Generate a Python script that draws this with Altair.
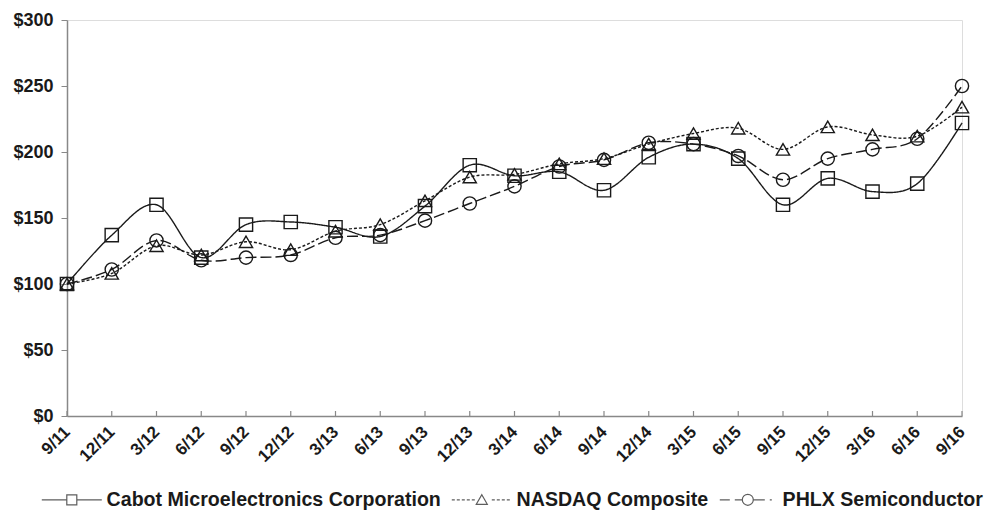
import altair as alt
import pandas as pd

dates = ["9/11", "12/11", "3/12", "6/12", "9/12", "12/12", "3/13", "6/13", "9/13", "12/13",
         "3/14", "6/14", "9/14", "12/14", "3/15", "6/15", "9/15", "12/15", "3/16", "6/16", "9/16"]

cabot = [100, 137, 160, 120, 145, 147, 143, 136, 159, 190,
         182, 185, 171, 196, 206, 195, 160, 180, 170, 176, 222]
nasdaq = [100, 108, 129, 122, 132, 126, 140, 145, 163, 181,
          183, 191, 195, 206, 214, 218, 202, 219, 213, 212, 234]
phlx = [100, 111, 133, 118, 120, 122, 135, 137, 148, 161,
        174, 189, 194, 207, 206, 197, 179, 195, 202, 210, 250]

series = ["Cabot Microelectronics Corporation", "NASDAQ Composite", "PHLX Semiconductor"]

rows = []
for name, vals in zip(series, [cabot, nasdaq, phlx]):
    for d, v in zip(dates, vals):
        rows.append({"date": d, "value": v, "series": name})
df = pd.DataFrame(rows)

# legend symbol paths (unit = 5px at symbolSize 100)
def segs(parts):
    return "".join(f"M{a},0H{b}" for a, b in parts)

sq = "M-1,-1H1V1H-1Z"
tri = "M-1.1,0.9L0,-1L1.1,0.9Z"
circ = "M-1.1,0A1.1,1.1 0 1,0 1.1,0A1.1,1.1 0 1,0 -1.1,0"

p_cabot = segs([(-6, -1), (1, 6)]) + sq
nas_parts = []
x = -6.0
while x < 6:
    a, b = round(x, 2), round(min(x + 0.6, 6), 2)
    if b <= -1.1 or a >= 1.1:
        nas_parts.append((a, b))
    x += 1.0
p_nas = segs(nas_parts) + tri
p_phlx = segs([(-5.6, -3.6), (-2.6, -1.1), (1.1, 3.4), (4.4, 4.8)]) + circ

FONT = "Liberation Sans"
INK = "#1a1a1a"

x_enc = alt.X("date:N", sort=dates, title=None,
              scale=alt.Scale(type="point", padding=0),
              axis=alt.Axis(labelAngle=-45, labelFontSize=17, labelFont=FONT, labelFontWeight="bold",
                            labelColor=INK, ticks=False, domainColor="#888888", domainWidth=1.5,
                            labelPadding=13, grid=False))
y_enc = alt.Y("value:Q", title=None,
              scale=alt.Scale(domain=[0, 300], nice=False),
              axis=alt.Axis(values=[0, 50, 100, 150, 200, 250, 300], labelExpr="'$' + datum.value",
                            labelFontSize=18, labelFont=FONT, labelFontWeight="bold", labelColor=INK,
                            tickSize=6, tickColor="#888888", domainColor="#888888", domainWidth=1.5,
                            labelPadding=8, grid=False))

lines = alt.Chart(df).mark_line(interpolate="cardinal", color=INK, strokeWidth=1.4).encode(
    x=x_enc, y=y_enc,
    detail="series:N",
    strokeDash=alt.StrokeDash("series:N", sort=series, legend=None,
                              scale=alt.Scale(domain=series, range=[[1, 0], [3, 2], [11, 4]])),
)

points = alt.Chart(df).mark_point(filled=False, size=175, color=INK, strokeWidth=1.4, opacity=1).encode(
    x=alt.X("date:N", sort=dates),
    y="value:Q",
    shape=alt.Shape("series:N", sort=series,
                    scale=alt.Scale(domain=series, range=["square", "triangle-up", "circle"]),
                    legend=None),
)

legend_layer = alt.Chart(df).transform_filter("false").mark_point(
    filled=False, color=INK, strokeWidth=1.2).encode(
    shape=alt.Shape("series:N", sort=series,
                    scale=alt.Scale(domain=series, range=[p_cabot, p_nas, p_phlx]),
                    legend=alt.Legend(title=None, orient="none", legendX=-5, legendY=470,
                                      direction="horizontal", columns=3, symbolSize=100,
                                      symbolStrokeColor=INK, symbolFillColor="transparent",
                                      symbolStrokeWidth=1.2, labelFont=FONT, labelFontSize=19.6,
                                      labelFontWeight="bold", labelColor=INK, labelOffset=25,
                                      labelLimit=500, columnPadding=8, gridAlign="none")),
)

ticks_df = pd.DataFrame({"date": dates})
xticks = alt.Chart(ticks_df).mark_rule(color="#888888", strokeWidth=1.2).encode(
    x=alt.X("date:N", sort=dates),
    y=alt.value(396),
    y2=alt.value(391),
)

chart = alt.layer(xticks, lines, points, legend_layer).resolve_scale(
    shape="independent").resolve_legend(shape="independent").properties(
    width=895, height=396,
    autosize=alt.AutoSizeParams(type="none"),
    padding={"left": 59, "top": 12, "right": 33, "bottom": 96},
).configure_view(stroke=None).configure(background="white")

chart.save("out.html", embed_options={"renderer": "svg", "actions": False})
